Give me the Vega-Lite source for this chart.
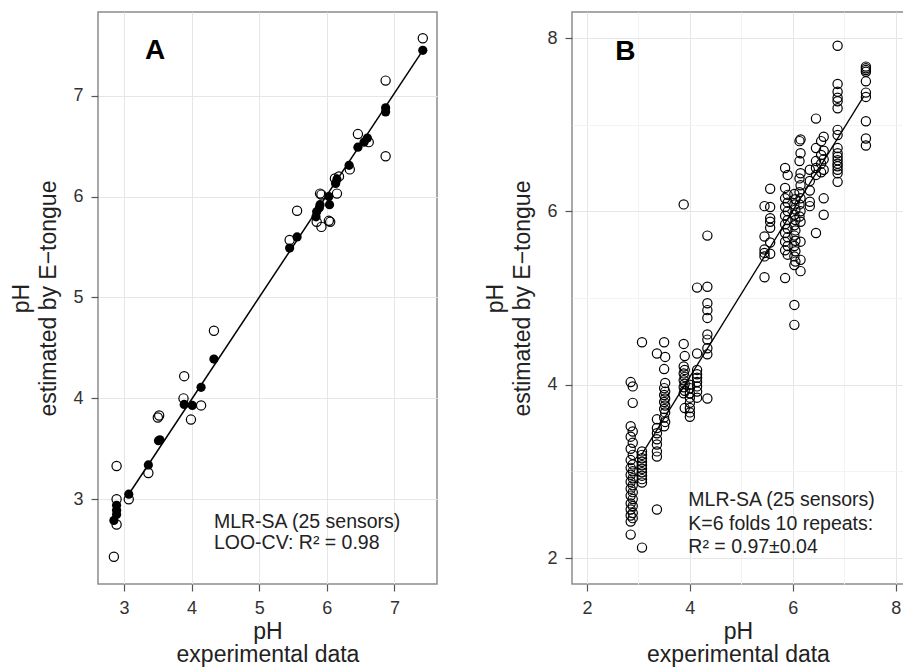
{
 "$schema": "https://vega.github.io/schema/vega-lite/v6.json",
 "padding": {"left": 10, "top": 11, "right": 0, "bottom": 0},
 "config": {
  "font": "Liberation Sans",
  "view": {"stroke": "#8c8c8c", "strokeWidth": 1.5},
  "axis": {"domain": false, "tickColor": "#555555", "tickSize": 7, "tickWidth": 1.2, "labelFontSize": 18, "labelColor": "#333333", "titleFontSize": 23, "titleFontWeight": "normal", "titleColor": "#222222", "labelPadding": 8, "gridWidth": 1, "labelOverlap": false},
  "axisY": {"titlePadding": 12, "titleLineHeight": 27},
  "axisX": {"titlePadding": 3, "titleLineHeight": 23},
  "concat": {"spacing": 46}
 },
 "datasets": {
  "lineA": [{"x": 3.07, "y": 3.05}, {"x": 7.42, "y": 7.45}],
  "lineB": [{"x": 3.06, "y": 3.19}, {"x": 7.38, "y": 7.33}],
  "fitA": [
   {"x": 7.42, "y": 7.45}, {"x": 6.87, "y": 6.88}, {"x": 6.87, "y": 6.84}, {"x": 6.6, "y": 6.58}, {"x": 6.55, "y": 6.54}, {"x": 6.46, "y": 6.49}, {"x": 6.33, "y": 6.31}, {"x": 6.15, "y": 6.17}, {"x": 6.13, "y": 6.13}, {"x": 6.03, "y": 6.0}, {"x": 6.04, "y": 5.92}, {"x": 5.9, "y": 5.92}, {"x": 5.89, "y": 5.89}, {"x": 5.85, "y": 5.85}, {"x": 5.84, "y": 5.8}, {"x": 5.56, "y": 5.6}, {"x": 5.45, "y": 5.49}, {"x": 4.33, "y": 4.39}, {"x": 4.14, "y": 4.11}, {"x": 3.89, "y": 3.94}, {"x": 4.01, "y": 3.93}, {"x": 3.51, "y": 3.58}, {"x": 3.53, "y": 3.59}, {"x": 3.36, "y": 3.34}, {"x": 3.07, "y": 3.05}, {"x": 2.89, "y": 2.94}, {"x": 2.89, "y": 2.89}, {"x": 2.89, "y": 2.85}, {"x": 2.85, "y": 2.79}
  ],
  "cvA": [
   {"x": 7.42, "y": 7.57}, {"x": 6.87, "y": 7.15}, {"x": 6.87, "y": 6.4}, {"x": 6.46, "y": 6.62}, {"x": 6.62, "y": 6.54}, {"x": 6.34, "y": 6.27}, {"x": 6.18, "y": 6.2}, {"x": 6.12, "y": 6.18}, {"x": 6.15, "y": 6.03}, {"x": 5.9, "y": 6.03}, {"x": 5.92, "y": 6.02}, {"x": 5.85, "y": 5.75}, {"x": 5.92, "y": 5.7}, {"x": 6.03, "y": 5.76}, {"x": 6.05, "y": 5.75}, {"x": 5.56, "y": 5.86}, {"x": 5.45, "y": 5.57}, {"x": 4.33, "y": 4.67}, {"x": 3.89, "y": 4.22}, {"x": 3.88, "y": 4.0}, {"x": 4.14, "y": 3.93}, {"x": 3.99, "y": 3.79}, {"x": 3.5, "y": 3.81}, {"x": 3.52, "y": 3.83}, {"x": 3.36, "y": 3.26}, {"x": 3.07, "y": 3.0}, {"x": 2.89, "y": 3.33}, {"x": 2.89, "y": 3.0}, {"x": 2.89, "y": 2.75}, {"x": 2.85, "y": 2.43}
  ],
  "cvB": [
   {"x": 2.85, "y": 4.03}, {"x": 2.85, "y": 3.52}, {"x": 2.85, "y": 3.40}, {"x": 2.85, "y": 3.26}, {"x": 2.85, "y": 3.13}, {"x": 2.85, "y": 3.04}, {"x": 2.85, "y": 2.96}, {"x": 2.85, "y": 2.88}, {"x": 2.85, "y": 2.80}, {"x": 2.85, "y": 2.72}, {"x": 2.85, "y": 2.63}, {"x": 2.85, "y": 2.56}, {"x": 2.85, "y": 2.49}, {"x": 2.85, "y": 2.42}, {"x": 2.85, "y": 2.27},
   {"x": 2.89, "y": 3.98}, {"x": 2.89, "y": 3.79}, {"x": 2.89, "y": 3.46}, {"x": 2.89, "y": 3.33}, {"x": 2.89, "y": 3.19}, {"x": 2.89, "y": 3.08}, {"x": 2.89, "y": 3.0}, {"x": 2.89, "y": 2.92}, {"x": 2.89, "y": 2.84}, {"x": 2.89, "y": 2.76}, {"x": 2.89, "y": 2.68}, {"x": 2.89, "y": 2.60}, {"x": 2.89, "y": 2.52}, {"x": 2.89, "y": 2.46},
   {"x": 3.07, "y": 4.49}, {"x": 3.07, "y": 3.23}, {"x": 3.07, "y": 3.19}, {"x": 3.07, "y": 3.15}, {"x": 3.07, "y": 3.11}, {"x": 3.07, "y": 3.07}, {"x": 3.07, "y": 3.03}, {"x": 3.07, "y": 2.99}, {"x": 3.07, "y": 2.95}, {"x": 3.07, "y": 2.91}, {"x": 3.07, "y": 2.87}, {"x": 3.07, "y": 2.12},
   {"x": 3.36, "y": 4.36}, {"x": 3.36, "y": 3.60}, {"x": 3.36, "y": 3.50}, {"x": 3.36, "y": 3.44}, {"x": 3.36, "y": 3.37}, {"x": 3.36, "y": 3.31}, {"x": 3.36, "y": 3.23}, {"x": 3.36, "y": 3.17}, {"x": 3.36, "y": 2.56},
   {"x": 3.5, "y": 4.49}, {"x": 3.5, "y": 4.18}, {"x": 3.5, "y": 3.96}, {"x": 3.5, "y": 3.88}, {"x": 3.5, "y": 3.80}, {"x": 3.5, "y": 3.72}, {"x": 3.5, "y": 3.62}, {"x": 3.5, "y": 3.52},
   {"x": 3.52, "y": 4.32}, {"x": 3.52, "y": 4.02}, {"x": 3.52, "y": 3.92}, {"x": 3.52, "y": 3.84}, {"x": 3.52, "y": 3.76}, {"x": 3.52, "y": 3.68}, {"x": 3.52, "y": 3.57},
   {"x": 3.88, "y": 4.47}, {"x": 3.88, "y": 4.21}, {"x": 3.88, "y": 4.13}, {"x": 3.88, "y": 4.05}, {"x": 3.88, "y": 3.97}, {"x": 3.88, "y": 3.90}, {"x": 3.88, "y": 6.08},
   {"x": 3.9, "y": 4.33}, {"x": 3.9, "y": 4.17}, {"x": 3.9, "y": 4.09}, {"x": 3.9, "y": 4.01}, {"x": 3.9, "y": 3.93}, {"x": 3.9, "y": 3.73},
   {"x": 4.0, "y": 4.0}, {"x": 4.0, "y": 3.96}, {"x": 4.0, "y": 3.90}, {"x": 4.0, "y": 3.85}, {"x": 4.0, "y": 3.79}, {"x": 4.0, "y": 3.73}, {"x": 4.0, "y": 3.68}, {"x": 4.0, "y": 3.63},
   {"x": 4.14, "y": 5.12}, {"x": 4.14, "y": 4.36}, {"x": 4.14, "y": 4.17}, {"x": 4.14, "y": 4.12}, {"x": 4.14, "y": 4.08}, {"x": 4.14, "y": 4.03}, {"x": 4.14, "y": 3.98}, {"x": 4.14, "y": 3.92}, {"x": 4.14, "y": 3.85},
   {"x": 4.34, "y": 5.72}, {"x": 4.34, "y": 5.13}, {"x": 4.34, "y": 4.94}, {"x": 4.34, "y": 4.86}, {"x": 4.34, "y": 4.77}, {"x": 4.34, "y": 4.58}, {"x": 4.34, "y": 4.52}, {"x": 4.34, "y": 4.42}, {"x": 4.34, "y": 4.35}, {"x": 4.34, "y": 3.84},
   {"x": 5.45, "y": 6.06}, {"x": 5.45, "y": 5.71}, {"x": 5.45, "y": 5.56}, {"x": 5.45, "y": 5.52}, {"x": 5.45, "y": 5.48}, {"x": 5.45, "y": 5.24},
   {"x": 5.56, "y": 6.26}, {"x": 5.56, "y": 6.05}, {"x": 5.56, "y": 5.92}, {"x": 5.56, "y": 5.88}, {"x": 5.56, "y": 5.81}, {"x": 5.56, "y": 5.64}, {"x": 5.56, "y": 5.51},
   {"x": 5.85, "y": 6.5}, {"x": 5.85, "y": 6.27}, {"x": 5.85, "y": 6.15}, {"x": 5.85, "y": 6.05}, {"x": 5.85, "y": 5.95}, {"x": 5.85, "y": 5.85}, {"x": 5.85, "y": 5.75}, {"x": 5.85, "y": 5.65}, {"x": 5.85, "y": 5.55}, {"x": 5.85, "y": 5.23},
   {"x": 5.9, "y": 6.42}, {"x": 5.9, "y": 6.19}, {"x": 5.9, "y": 6.1}, {"x": 5.9, "y": 6.0}, {"x": 5.9, "y": 5.9}, {"x": 5.9, "y": 5.8}, {"x": 5.9, "y": 5.7}, {"x": 5.9, "y": 5.6}, {"x": 5.9, "y": 5.5},
   {"x": 6.03, "y": 6.2}, {"x": 6.03, "y": 6.08}, {"x": 6.03, "y": 5.96}, {"x": 6.03, "y": 5.84}, {"x": 6.03, "y": 5.72}, {"x": 6.03, "y": 5.6}, {"x": 6.03, "y": 5.48}, {"x": 6.03, "y": 5.38}, {"x": 6.03, "y": 4.92}, {"x": 6.03, "y": 4.69},
   {"x": 6.05, "y": 6.14}, {"x": 6.05, "y": 6.02}, {"x": 6.05, "y": 5.9}, {"x": 6.05, "y": 5.78}, {"x": 6.05, "y": 5.66}, {"x": 6.05, "y": 5.54}, {"x": 6.05, "y": 5.42},
   {"x": 6.15, "y": 6.83}, {"x": 6.15, "y": 6.67}, {"x": 6.15, "y": 6.44}, {"x": 6.15, "y": 6.3}, {"x": 6.15, "y": 6.15}, {"x": 6.15, "y": 6.0}, {"x": 6.15, "y": 5.88}, {"x": 6.15, "y": 5.65}, {"x": 6.15, "y": 5.44}, {"x": 6.15, "y": 5.31},
   {"x": 6.13, "y": 6.81}, {"x": 6.13, "y": 6.58}, {"x": 6.13, "y": 6.38}, {"x": 6.13, "y": 6.22}, {"x": 6.13, "y": 6.08}, {"x": 6.13, "y": 5.94},
   {"x": 6.33, "y": 6.48}, {"x": 6.33, "y": 6.35}, {"x": 6.33, "y": 6.24}, {"x": 6.33, "y": 6.11}, {"x": 6.33, "y": 6.06},
   {"x": 6.45, "y": 7.07}, {"x": 6.45, "y": 6.73}, {"x": 6.45, "y": 6.58}, {"x": 6.45, "y": 6.5}, {"x": 6.45, "y": 6.42}, {"x": 6.45, "y": 5.75},
   {"x": 6.6, "y": 6.86}, {"x": 6.6, "y": 6.7}, {"x": 6.6, "y": 6.6}, {"x": 6.6, "y": 6.48}, {"x": 6.6, "y": 6.15}, {"x": 6.6, "y": 5.96},
   {"x": 6.55, "y": 6.81}, {"x": 6.55, "y": 6.65}, {"x": 6.55, "y": 6.55}, {"x": 6.55, "y": 6.45},
   {"x": 6.87, "y": 7.91}, {"x": 6.87, "y": 7.47}, {"x": 6.87, "y": 7.38}, {"x": 6.87, "y": 7.31}, {"x": 6.87, "y": 7.27}, {"x": 6.87, "y": 7.19}, {"x": 6.87, "y": 6.94}, {"x": 6.87, "y": 6.88}, {"x": 6.87, "y": 6.73}, {"x": 6.87, "y": 6.67}, {"x": 6.87, "y": 6.63}, {"x": 6.87, "y": 6.59}, {"x": 6.87, "y": 6.55}, {"x": 6.87, "y": 6.52}, {"x": 6.87, "y": 6.48}, {"x": 6.87, "y": 6.44}, {"x": 6.87, "y": 6.34},
   {"x": 7.42, "y": 7.67}, {"x": 7.42, "y": 7.65}, {"x": 7.42, "y": 7.63}, {"x": 7.42, "y": 7.61}, {"x": 7.42, "y": 7.5}, {"x": 7.42, "y": 7.37}, {"x": 7.42, "y": 7.32}, {"x": 7.42, "y": 7.04}, {"x": 7.42, "y": 6.84}, {"x": 7.42, "y": 6.76}
  ]
 },
 "hconcat": [
  {
   "width": 339,
   "height": 572,
   "encoding": {
    "x": {"type": "quantitative", "scale": {"domain": [2.615, 7.63], "nice": false, "zero": false},
     "axis": {"title": ["pH", "experimental data"], "values": [3, 3.5, 4, 4.5, 5, 5.5, 6, 6.5, 7, 7.5], "format": "d", "labelOverlap": false,
      "labelExpr": "datum.value % 1 === 0 ? datum.label : ''",
      "tickOpacity": {"condition": {"test": "datum.value % 1 !== 0", "value": 0}, "value": 1},
      "gridColor": {"condition": {"test": "datum.value % 1 !== 0", "value": "#f3f3f3"}, "value": "#e6e6e6"}}},
    "y": {"type": "quantitative", "scale": {"domain": [2.16, 7.83], "nice": false, "zero": false},
     "axis": {"title": ["pH", "estimated by E\u2212tongue"], "values": [3, 4, 5, 6, 7], "format": "d", "labelOverlap": false, "gridColor": "#e6e6e6"}}
   },
   "layer": [
    {"data": {"name": "lineA"}, "mark": {"type": "line", "color": "black", "strokeWidth": 1.5}, "encoding": {"x": {"field": "x"}, "y": {"field": "y"}}},
    {"data": {"name": "fitA"}, "mark": {"type": "circle", "color": "black", "opacity": 1, "size": 85}, "encoding": {"x": {"field": "x"}, "y": {"field": "y"}}},
    {"data": {"name": "cvA"}, "mark": {"type": "point", "shape": "circle", "filled": false, "color": "black", "opacity": 1, "size": 85, "strokeWidth": 1.2}, "encoding": {"x": {"field": "x"}, "y": {"field": "y"}}},
    {"data": {"values": [{"label": "A"}]}, "mark": {"type": "text", "fontSize": 28, "fontWeight": "bold", "align": "left", "baseline": "alphabetic", "color": "black"},
     "encoding": {"text": {"field": "label"}, "x": {"datum": 3.31}, "y": {"datum": 7.36}}},
    {"data": {"values": [{"label": "note"}]}, "mark": {"type": "text", "text": ["MLR-SA (25 sensors)", "LOO-CV: R\u00b2 = 0.98"], "fontSize": 19.5, "lineHeight": 21.5, "align": "left", "baseline": "alphabetic", "color": "#222222"},
     "encoding": {"x": {"datum": 4.33}, "y": {"datum": 2.72}}}
   ]
  },
  {
   "width": 332,
   "height": 572,
   "encoding": {
    "x": {"type": "quantitative", "scale": {"domain": [1.71, 8.16], "nice": false, "zero": false},
     "axis": {"title": ["pH", "experimental data"], "values": [2, 3, 4, 5, 6, 7, 8], "format": "d", "labelOverlap": false,
      "labelExpr": "datum.value % 2 === 0 ? datum.label : ''",
      "tickOpacity": {"condition": {"test": "datum.value % 2 !== 0", "value": 0}, "value": 1},
      "gridColor": {"condition": {"test": "datum.value % 2 !== 0", "value": "#f3f3f3"}, "value": "#e6e6e6"}}},
    "y": {"type": "quantitative", "scale": {"domain": [1.7, 8.3], "nice": false, "zero": false},
     "axis": {"title": ["pH", "estimated by E\u2212tongue"], "values": [2, 3, 4, 5, 6, 7, 8], "format": "d", "labelOverlap": false,
      "labelExpr": "datum.value % 2 === 0 ? datum.label : ''",
      "tickOpacity": {"condition": {"test": "datum.value % 2 !== 0", "value": 0}, "value": 1},
      "gridColor": {"condition": {"test": "datum.value % 2 !== 0", "value": "#f3f3f3"}, "value": "#e6e6e6"}}}
   },
   "layer": [
    {"data": {"name": "lineB"}, "mark": {"type": "line", "color": "black", "strokeWidth": 1.3}, "encoding": {"x": {"field": "x"}, "y": {"field": "y"}}},
    {"data": {"name": "cvB"}, "mark": {"type": "point", "shape": "circle", "filled": false, "color": "black", "opacity": 1, "size": 85, "strokeWidth": 1.2}, "encoding": {"x": {"field": "x"}, "y": {"field": "y"}}},
    {"data": {"values": [{"label": "B"}]}, "mark": {"type": "text", "fontSize": 28, "fontWeight": "bold", "align": "left", "baseline": "alphabetic", "color": "black"},
     "encoding": {"text": {"field": "label"}, "x": {"datum": 2.55}, "y": {"datum": 7.75}}},
    {"data": {"values": [{"label": "note"}]}, "mark": {"type": "text", "text": ["MLR-SA (25 sensors)", "K=6 folds 10 repeats:", "R\u00b2 = 0.97\u00b10.04"], "fontSize": 19.5, "lineHeight": 23.5, "align": "left", "baseline": "alphabetic", "color": "#222222"},
     "encoding": {"x": {"datum": 3.97}, "y": {"datum": 2.6}}}
   ]
  }
 ]
}
